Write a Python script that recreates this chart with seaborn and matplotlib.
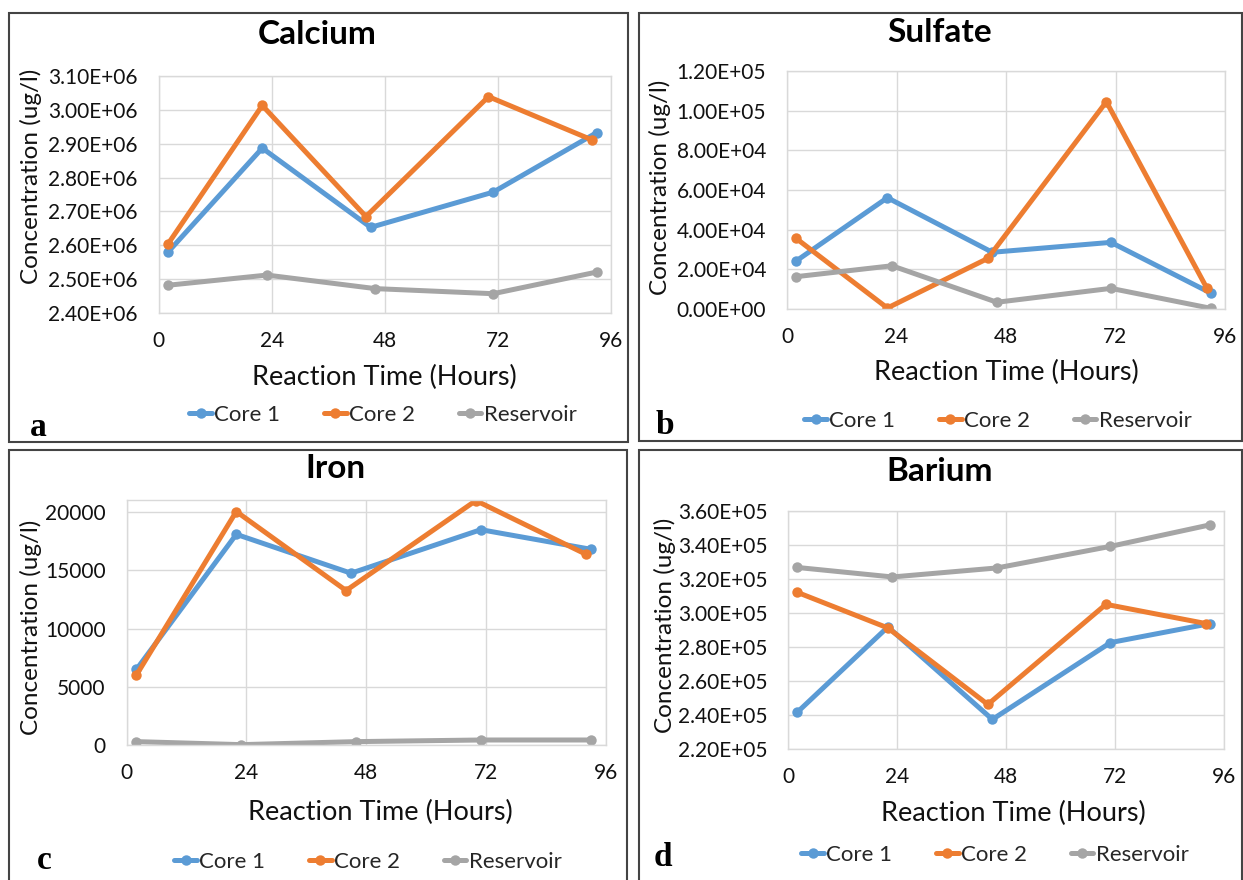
import matplotlib
matplotlib.use("Agg")
import matplotlib.pyplot as plt
import matplotlib.ticker as mticker
from matplotlib.patches import Rectangle
from matplotlib.lines import Line2D
import seaborn as sns
import pandas as pd

# ---------------- data ----------------
series_names = ["Core 1", "Core 2", "Reservoir"]
t_core1 = [2, 22, 45, 71, 93]
t_core2 = [2, 22, 44, 70, 92]
t_res = [2, 23, 46, 71, 93]

ca_core1 = [2.580e6, 2.887e6, 2.653e6, 2.757e6, 2.933e6]
ca_core2 = [2.604e6, 3.013e6, 2.685e6, 3.039e6, 2.911e6]
ca_res = [2.482e6, 2.512e6, 2.472e6, 2.457e6, 2.521e6]

so4_core1 = [24200, 56100, 28600, 33600, 7900]
so4_core2 = [35600, 500, 25500, 104500, 10600]
so4_res = [16300, 21800, 3400, 10400, 300]

fe_core1 = [6500, 18100, 14760, 18500, 16820]
fe_core2 = [6020, 20060, 13270, 21000, 16400]
fe_res = [290, 30, 290, 430, 430]

ba_core1 = [2.415e5, 2.918e5, 2.374e5, 2.826e5, 2.938e5]
ba_core2 = [3.122e5, 2.912e5, 2.462e5, 3.051e5, 2.938e5]
ba_res = [3.268e5, 3.212e5, 3.265e5, 3.392e5, 3.519e5]

x_ticks = [0, 24, 48, 72, 96]
ca_ticks = [2.4e6, 2.5e6, 2.6e6, 2.7e6, 2.8e6, 2.9e6, 3.0e6, 3.1e6]
so4_ticks = [0, 2e4, 4e4, 6e4, 8e4, 1e5, 1.2e5]
fe_ticks = [0, 5000, 10000, 15000, 20000]
ba_ticks = [2.2e5, 2.4e5, 2.6e5, 2.8e5, 3.0e5, 3.2e5, 3.4e5, 3.6e5]

titles = ["Calcium", "Sulfate", "Iron", "Barium"]
letters = ["a", "b", "c", "d"]
xlabel = "Reaction Time (Hours)"
ylabel = "Concentration (ug/l)"

colors = {"Core 1": "#5B9BD5", "Core 2": "#ED7D31", "Reservoir": "#A5A5A5"}

# ---------------- style ----------------
sns.set_theme(style="white")
plt.rcParams["font.family"] = ["Lato", "DejaVu Sans"]

W, H = 1243, 880
fig = plt.figure(figsize=(W / 100, H / 100), dpi=100)
fig.patch.set_facecolor("white")


def fx(x):
    return x / W


def fy(y):
    return 1 - y / H


def make_df(vals):
    rows = []
    for name, ts, vs in zip(series_names, [t_core1, t_core2, t_res], vals):
        for t, v in zip(ts, vs):
            rows.append({"time": t, "conc": v, "series": name})
    return pd.DataFrame(rows)


panels = [
    dict(vals=[ca_core1, ca_core2, ca_res], ticks=ca_ticks, ylim=(2.4e6, 3.1e6), fmt="sci",
         box=(158.6, 611, 76, 313), border=(9, 13, 628, 442),
         title=(317, 35), ylab=(31, 176), xlab=(384, 377), leg=(383, 415), let=(38, 427)),
    dict(vals=[so4_core1, so4_core2, so4_res], ticks=so4_ticks, ylim=(0, 1.2e5), fmt="sci",
         box=(787, 1225, 71, 309), border=(639, 13, 1242, 441),
         title=(940, 32), ylab=(660, 187), xlab=(1006, 372), leg=(998, 421), let=(665, 425)),
    dict(vals=[fe_core1, fe_core2, fe_res], ticks=fe_ticks, ylim=(0, 21050), fmt="int",
         box=(126.5, 605.6, 500, 745), border=(9, 450, 627, 884),
         title=(335, 468), ylab=(31, 627), xlab=(380, 812), leg=(368, 862), let=(44, 860)),
    dict(vals=[ba_core1, ba_core2, ba_res], ticks=ba_ticks, ylim=(2.2e5, 3.6e5), fmt="sci",
         box=(788, 1224, 511, 749), border=(639, 450, 1242, 884),
         title=(940, 471), ylab=(665, 625), xlab=(1013, 813), leg=(995, 855), let=(663, 857)),
]

grid_c = "#D9D9D9"

for i, p in enumerate(panels):
    l, r, t, b = p["box"]
    ax = fig.add_axes([fx(l), fy(b), (r - l) / W, (b - t) / H])
    df = make_df(p["vals"])
    sns.lineplot(data=df, x="time", y="conc", hue="series", palette=colors,
                 estimator=None, sort=False, marker="o", markersize=7.5,
                 markeredgewidth=0, linewidth=3.6, ax=ax, legend=False)
    ax.set_xlim(0, 96)
    ax.set_ylim(*p["ylim"])
    ax.set_xticks(x_ticks)
    ax.set_yticks(p["ticks"])
    if p["fmt"] == "sci":
        ax.yaxis.set_major_formatter(mticker.FuncFormatter(lambda v, pos: "%.2E" % v))
    else:
        ax.yaxis.set_major_formatter(mticker.FuncFormatter(lambda v, pos: "%d" % round(v)))
    ax.grid(True, color=grid_c, linewidth=1.0)
    ax.set_axisbelow(True)
    for s in ax.spines.values():
        s.set_color(grid_c)
        s.set_linewidth(1.0)
    ax.tick_params(axis="both", length=0, labelsize=15, colors="#111111")
    ax.tick_params(axis="y", pad=15)
    ax.tick_params(axis="x", pad=13)
    ax.set_xlabel("")
    ax.set_ylabel("")

    fig.text(fx(p["title"][0]), fy(p["title"][1]), titles[i], ha="center", va="center",
             fontsize=24, fontweight="bold", color="black")
    fig.text(fx(p["ylab"][0]), fy(p["ylab"][1]), ylabel, ha="center", va="center",
             rotation=90, fontsize=17.5, color="#111111")
    fig.text(fx(p["xlab"][0]), fy(p["xlab"][1]), xlabel, ha="center", va="center",
             fontsize=19.5, color="#111111")
    fig.text(fx(p["let"][0]), fy(p["let"][1]), letters[i], ha="center", va="center",
             fontsize=24, fontweight="bold", family=["Liberation Serif", "DejaVu Serif"],
             color="black")

    handles = [Line2D([0], [0], color=colors[n], linewidth=3.6, marker="o",
                      markersize=7.5, markeredgewidth=0) for n in series_names]
    fig.legend(handles, series_names, loc="center",
               bbox_to_anchor=(fx(p["leg"][0]), fy(p["leg"][1])), ncol=3,
               frameon=False, fontsize=16, handlelength=1.0, handletextpad=0.1,
               columnspacing=2.0, borderpad=0, borderaxespad=0)

    bl, bt, br, bb = p["border"]
    fig.add_artist(Rectangle((fx(bl), fy(bb)), (br - bl) / W, (bb - bt) / H,
                             transform=fig.transFigure, fill=False,
                             edgecolor="#444444", linewidth=1.5, clip_on=False))

fig.savefig("out.png", dpi=100, facecolor="white")
